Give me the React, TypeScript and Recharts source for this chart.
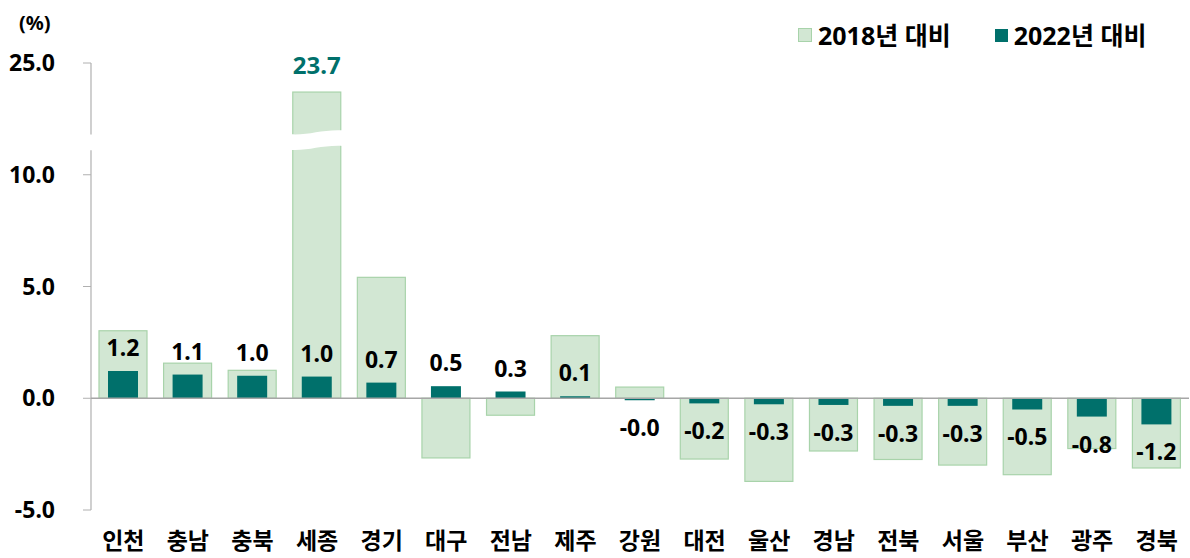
import React from 'react';
import { BarChart, Bar, XAxis, YAxis, ReferenceLine, LabelList } from 'recharts';

// 지역별 증감률 (%)
const regions = ['인천', '충남', '충북', '세종', '경기', '대구', '전남', '제주', '강원', '대전', '울산', '경남', '전북', '서울', '부산', '광주', '경북'];
const vs2018 = [3.02, 1.57, 1.25, 23.7, 5.41, -2.67, -0.76, 2.8, 0.5, -2.72, -3.72, -2.36, -2.74, -2.99, -3.42, -2.25, -3.12];
const vs2022 = [1.22, 1.06, 1.01, 0.97, 0.7, 0.54, 0.3, 0.07, -0.03, -0.23, -0.27, -0.3, -0.34, -0.34, -0.5, -0.82, -1.17];
const yTickValues = [-5, 0, 5, 10, 25];
const yTickLabels = ['-5.0', '0.0', '5.0', '10.0', '25.0'];
const legendNames = ['2018년 대비', '2022년 대비'];

const LIGHT = '#d2e7d3';
const LIGHT_BORDER = '#a8d3aa';
const DARK = '#00706b';
const GRAY = '#b0b0b0';
const FONT = "'Noto Sans', 'Noto Sans CJK KR', sans-serif";

// axis break: values above 12 are pulled down by 10
const brk = (v: number) => (v > 12 ? v - 10 : v);
const BREAK_LO = 11.1;
const BREAK_HI = 11.8;

const rows = regions.map((region, i) => ({
  region,
  v18: vs2018[i],
  v22: vs2022[i],
  d18: brk(vs2018[i]),
}));

const Bar18Shape = (p: any) => {
  const { x, y, width, height, payload } = p;
  const top = Math.min(y, y + height);
  const h = Math.abs(height);
  const rect = <rect x={x} y={top} width={width} height={h} fill={LIGHT} stroke={LIGHT_BORDER} strokeWidth={1.2} />;
  if (payload.v18 <= 12) return rect;
  const zero = top + h;
  const ppu = h / payload.d18;
  const yHi = zero - (BREAK_HI + 0.1) * ppu;
  const yLo = zero - (BREAK_LO + 0.1) * ppu;
  const x0 = x - 2;
  const x1 = x + width + 2;
  const d =
    `M${x0},${yHi + 2} C${x + width * 0.35},${yHi + 3} ${x + width * 0.6},${yHi - 3} ${x1},${yHi - 2} ` +
    `L${x1},${yLo - 2} C${x + width * 0.6},${yLo - 3} ${x + width * 0.35},${yLo + 3} ${x0},${yLo + 2} Z`;
  return (
    <g>
      {rect}
      <path d={d} fill="#fff" />
    </g>
  );
};

const Label18 = (p: any) => {
  const { x, y, width, height, index } = p;
  if (vs2018[index] <= 12) return null;
  const top = Math.min(y, y + height);
  return (
    <text x={x + width / 2} y={top - 18} textAnchor="middle" fontSize={24} fontWeight={700} fill={DARK}>
      {vs2018[index].toFixed(1)}
    </text>
  );
};

const Label22 = (p: any) => {
  const { x, y, width, height, index } = p;
  const v = vs2022[index];
  const top = Math.min(y, y + height);
  const bottom = Math.max(y, y + height);
  const ty = v >= 0 ? top - 15 : bottom + 36;
  return (
    <text x={x + width / 2} y={ty} textAnchor="middle" fontSize={23} fontWeight={700} fill="#000">
      {v.toFixed(1)}
    </text>
  );
};

const XTick = (p: any) => (
  <text x={p.x} y={p.y + 37} textAnchor="middle" fontSize={23} fontWeight={700} fill="#000">
    {p.payload.value}
  </text>
);

export default function App() {
  return (
    <div style={{ position: 'absolute', left: 0, top: 0, width: 1190, height: 558, fontFamily: FONT, background: '#fff' }}>
      <div style={{ position: 'absolute', left: 19, top: 9, fontSize: 20, fontWeight: 700 }}>(%)</div>
      <div style={{ position: 'absolute', left: 798, top: 19, display: 'flex', alignItems: 'center', fontSize: 25, fontWeight: 700, lineHeight: '32px' }}>
        <span style={{ width: 12, height: 12, background: LIGHT, border: `1px solid ${LIGHT_BORDER}` }} />
        <span style={{ marginLeft: 6 }}>{legendNames[0]}</span>
        <span style={{ width: 13, height: 13, background: DARK, marginLeft: 44 }} />
        <span style={{ marginLeft: 6 }}>{legendNames[1]}</span>
      </div>
      <BarChart width={1190} height={558} data={rows} margin={{ top: 63, right: 1, bottom: 0, left: 0 }}>
        <XAxis dataKey="region" height={48} axisLine={false} tickLine={false} tickSize={0} interval={0} tick={<XTick />} />
        <XAxis xAxisId="dark" dataKey="region" hide />
        <YAxis
          width={91}
          domain={[-5, 15]}
          allowDataOverflow
          ticks={yTickValues.map(brk)}
          tickFormatter={(v: number) => yTickLabels[yTickValues.map(brk).indexOf(v)]}
          axisLine={false}
          tickSize={8}
          tickMargin={28}
          tickLine={{ stroke: GRAY }}
          tick={{ fill: '#000', fontSize: 23, fontWeight: 700 }}
        />
        <ReferenceLine segment={[{ x: regions[0], y: -5 }, { x: regions[0], y: BREAK_LO }]} position="start" stroke={GRAY} strokeWidth={1.2} />
        <ReferenceLine segment={[{ x: regions[0], y: BREAK_HI }, { x: regions[0], y: 15 }]} position="start" stroke={GRAY} strokeWidth={1.2} />
        <Bar dataKey="d18" barSize={48} shape={<Bar18Shape />} isAnimationActive={false}>
          <LabelList dataKey="v18" content={<Label18 />} />
        </Bar>
        <Bar dataKey="v22" xAxisId="dark" barSize={30} fill={DARK} minPointSize={2} isAnimationActive={false}>
          <LabelList dataKey="v22" content={<Label22 />} />
        </Bar>
        <ReferenceLine y={0} stroke="#a6a6a6" strokeWidth={1.5} />
      </BarChart>
    </div>
  );
}
